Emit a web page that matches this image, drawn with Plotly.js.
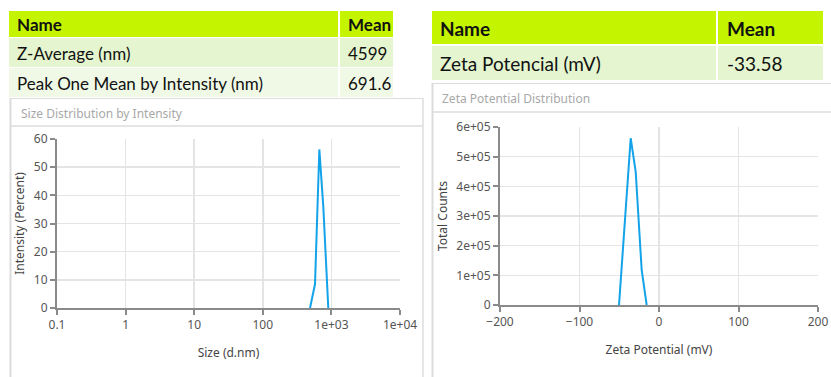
<!DOCTYPE html>
<html>
<head>
<meta charset="utf-8">
<script src="https://cdn.plot.ly/plotly-3.0.1.min.js"></script>
<style>html,body{margin:0;padding:0;background:#fff;}#chart{width:831px;height:377px;}</style>
</head>
<body>
<div id="chart"></div>
<script>
// ---- data ----
const sizeTableNames = ["Z-Average (nm)", "Peak One Mean by Intensity (nm)"];
const sizeTableMeans = ["4599", "691.6"];
const zetaTableNames = ["Zeta Potencial (mV)"];
const zetaTableMeans = ["-33.58"];

const sizeX = [488, 577, 667, 762, 901];          // d.nm
const sizeY = [0, 8.5, 56.3, 36, 0];              // Intensity (%)
const sizeTickVals = [0.1, 1, 10, 100, 1000, 10000];
const sizeTickText = ["0.1", "1", "10", "100", "1e+03", "1e+04"];

const zetaX = [-50.3, -35.6, -29.3, -21.8, -15.5]; // mV
const zetaY = [0, 562000, 449000, 118000, 0];      // total counts
const zetaTickVals = [0, 100000, 200000, 300000, 400000, 500000, 600000];
const zetaTickText = ["0", "1e+05", "2e+05", "3e+05", "4e+05", "5e+05", "6e+05"];

// ---- layout helpers ----
const W = 831, H = 377;
const px = x => x / W;
const py = y => 1 - y / H;

const LINE = '#13a3e8';
const tickFont = {family: 'Noto Sans, Open Sans, sans-serif', size: 12, color: '#555'};
const titleFont = {family: 'Noto Sans, Open Sans, sans-serif', size: 12, color: '#444'};
const tblFont = 'Lato, Noto Sans, sans-serif';

const shapes = [];
const annotations = [];
function rect(x0, y0, x1, y1, fill, line) {
  shapes.push({type: 'rect', xref: 'paper', yref: 'paper', x0: px(x0), x1: px(x1), y0: py(y1), y1: py(y0),
    fillcolor: fill, line: line || {width: 0}, layer: 'below'});
}
function hline(x0, x1, y, color, w) {
  shapes.push({type: 'line', xref: 'paper', yref: 'paper', x0: px(x0), x1: px(x1), y0: py(y), y1: py(y),
    line: {color: color, width: w}, layer: 'below'});
}
function vline(x, y0, y1, color, w) {
  shapes.push({type: 'line', xref: 'paper', yref: 'paper', x0: px(x), x1: px(x), y0: py(y0), y1: py(y1),
    line: {color: color, width: w}, layer: 'below'});
}
function text(x, y, t, size, bold, color, family) {
  annotations.push({xref: 'paper', yref: 'paper', x: px(x), y: py(y), xanchor: 'left', yanchor: 'middle',
    text: bold ? '<b>' + t + '</b>' : t, showarrow: false,
    font: {family: family || tblFont, size: size, color: color || '#111'}});
}

const HEAD = '#c4f400';
const ROW1 = '#e4f5cf';
const ROW2 = '#f0f9e6';

// Left table
rect(9, 11, 338, 37, HEAD); rect(340, 11, 393, 37, HEAD);
text(15, 24.5, 'Name', 17, true); text(346, 24.5, 'Mean', 17, true);
const leftRowFills = [ROW1, ROW2];
sizeTableNames.forEach((n, i) => {
  const y0 = 38 + i * 30, y1 = y0 + 29;
  rect(9, y0, 338, y1, leftRowFills[i % 2]); rect(340, y0, 393, y1, leftRowFills[i % 2]);
  text(15, (y0 + y1) / 2 + 0.5, n, 17, false);
  text(346, (y0 + y1) / 2 + 0.5, sizeTableMeans[i], 17, false);
});

// Right table
rect(432, 11, 716, 44, HEAD); rect(718, 11, 823, 44, HEAD);
text(438, 28, 'Name', 19, true); text(725, 28, 'Mean', 19, true);
zetaTableNames.forEach((n, i) => {
  const y0 = 46 + i * 35, y1 = y0 + 34;
  rect(432, y0, 716, y1, ROW1); rect(718, y0, 823, y1, ROW1);
  text(438, (y0 + y1) / 2 + 0.5, n, 19, false);
  text(725, (y0 + y1) / 2 + 0.5, zetaTableMeans[i], 19, false);
});

// Panels
const PB = '#dcdcdc';
vline(10.5, 98, 377, PB, 2); hline(10, 423, 98.5, PB, 1); vline(423, 98, 377, PB, 1.5);
hline(10, 423, 126, PB, 1.5);
text(19, 113, 'Size Distribution by Intensity', 12, false, '#a8a8a8', 'Noto Sans, sans-serif');

vline(432.5, 83, 377, PB, 2); hline(432, 831, 83.5, PB, 1); hline(432, 831, 112, PB, 1.5);
text(440, 99, 'Zeta Potential Distribution', 12, false, '#a8a8a8', 'Noto Sans, sans-serif');

const axCommon = {
  showline: true, linecolor: '#8a8a8a', linewidth: 2,
  ticks: 'outside', ticklen: 5, tickwidth: 2, tickcolor: '#8a8a8a',
  showgrid: true, gridcolor: '#e4e4e4', gridwidth: 1.5,
  zeroline: false, tickfont: tickFont, fixedrange: true
};

const data = [
  {x: sizeX, y: sizeY, type: 'scatter', mode: 'lines', line: {color: LINE, width: 2},
   xaxis: 'x', yaxis: 'y', hoverinfo: 'x+y'},
  {x: zetaX, y: zetaY, type: 'scatter', mode: 'lines', line: {color: LINE, width: 2},
   xaxis: 'x2', yaxis: 'y2', hoverinfo: 'x+y'}
];

const layout = {
  width: W, height: H,
  margin: {l: 0, r: 0, t: 0, b: 0},
  paper_bgcolor: '#fff', plot_bgcolor: 'rgba(0,0,0,0)',
  showlegend: false,
  xaxis: Object.assign({}, axCommon, {
    domain: [px(57), px(400)], anchor: 'y', type: 'log', range: [-1, 4],
    tickvals: sizeTickVals, ticktext: sizeTickText,
    title: {text: 'Size (d.nm)', font: titleFont, standoff: 16}
  }),
  yaxis: Object.assign({}, axCommon, {
    domain: [py(308), py(139)], anchor: 'x', range: [0, 60], dtick: 10,
    title: {text: 'Intensity (Percent)', font: titleFont, standoff: 7}
  }),
  xaxis2: Object.assign({}, axCommon, {
    domain: [px(500), px(818)], anchor: 'y2', range: [-200, 200], dtick: 100,
    title: {text: 'Zeta Potential (mV)', font: titleFont, standoff: 16}
  }),
  yaxis2: Object.assign({}, axCommon, {
    domain: [py(305), py(127)], anchor: 'x2', range: [0, 600000],
    tickvals: zetaTickVals, ticktext: zetaTickText,
    title: {text: 'Total Counts', font: titleFont, standoff: 6}
  }),
  shapes: shapes,
  annotations: annotations
};

Plotly.newPlot('chart', data, layout, {displayModeBar: false, staticPlot: true});
</script>
</body>
</html>
